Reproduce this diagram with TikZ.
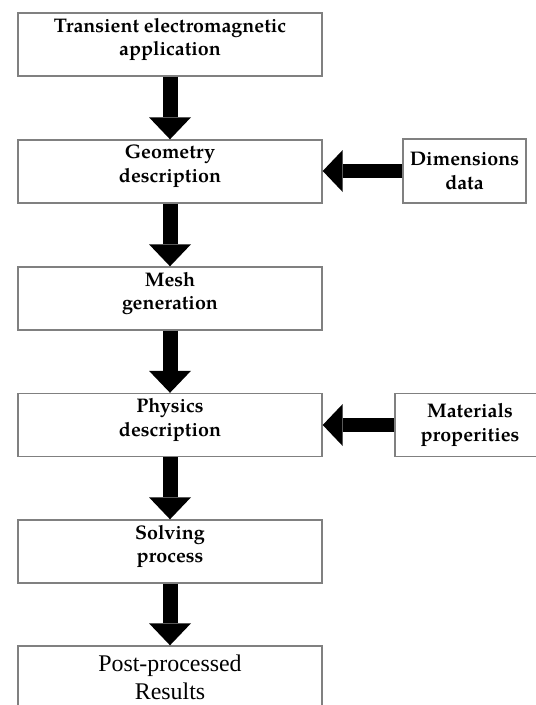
\documentclass[tikz,border=0pt]{standalone}
\usepackage{fontspec}
\setmainfont{TeX Gyre Pagella}
\newfontfamily\resultfont{Liberation Serif}
\usetikzlibrary{arrows.meta}

\begin{document}
\begin{tikzpicture}[
stepblock/.style={draw=black!50,line width=0.07cm,rectangle,inner sep=0pt,minimum width=15.2cm,minimum height=3.15cm,align=center,text depth=0.76cm,font=\fontsize{28}{34}\selectfont\bfseries},
sideblock/.style={stepblock,text depth=,minimum width=6.15cm,minimum height=3.2cm},
downarrow/.style={line width=0.75cm,-{Triangle[length=1.1cm,width=2.1cm,line width=0pt]}},
leftarrow/.style={line width=0.7cm,-{Triangle[length=1.0cm,width=2.1cm,line width=0pt]}}]

\clip (0,0) rectangle (26.8,-35.25);

\draw (8.5,-2.225) node[stepblock] (trans) {Transient electromagnetic\\application};
\draw (8.5,-8.575) node[stepblock] (geo) {Geometry\\description};
\draw (8.5,-14.925) node[stepblock] (mesh) {Mesh\\generation};
\draw (8.5,-21.25) node[stepblock] (phys) {Physics\\description};
\draw (8.5,-27.575) node[stepblock] (solve) {Solving\\process};
\draw (8.5,-33.875) node[stepblock,text depth=,font=\fontsize{34}{40}\selectfont\resultfont] (post) {Post-processed\\Results};

\draw (23.225,-8.55) node[sideblock] (dims) {Dimensions\\data};
\draw (23.5,-21.25) node[sideblock,minimum width=7.5cm,minimum height=3.15cm] (mats) {Materials\\properities};

\draw[downarrow] (trans.south) -- (geo.north);
\draw[downarrow] (geo.south) -- (mesh.north);
\draw[downarrow] (mesh.south) -- (phys.north);
\draw[downarrow] (phys.south) -- (solve.north);
\draw[downarrow] (solve.south) -- (post.north);

\draw[leftarrow] (dims.west) -- (dims.west -| geo.east);
\draw[leftarrow] (mats.west) -- (mats.west -| phys.east);

\end{tikzpicture}
\end{document}
